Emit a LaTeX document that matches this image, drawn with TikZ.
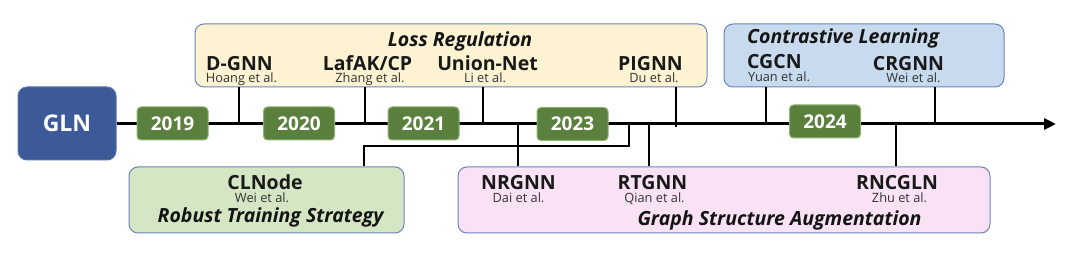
\documentclass[tikz,border=0pt]{standalone}
\usepackage{fontspec}
\setmainfont{Open Sans}
\usetikzlibrary{arrows.meta}
\definecolor{glnblue}{HTML}{3C5A97}
\definecolor{glnedge}{HTML}{5873AD}
\definecolor{yeargreen}{HTML}{5B803D}
\definecolor{yearedge}{HTML}{8DB36F}
\definecolor{groupedge}{HTML}{6A86BC}
\definecolor{lossfill}{HTML}{FDF2D2}
\definecolor{clfill}{HTML}{C8DAEE}
\definecolor{robfill}{HTML}{D4E6C4}
\definecolor{gsafill}{HTML}{F9E2F6}
\begin{document}
\begin{tikzpicture}[x=1pt,y=-1pt,
  gln/.style={draw=glnedge, fill=glnblue, rounded corners=9pt, line width=1pt, minimum width=98pt, minimum height=73pt, inner sep=0pt, text=white, font=\fontsize{23}{23}\selectfont\bfseries},
  yearbox/.style={draw=yearedge, fill=yeargreen, rounded corners=4pt, line width=1pt, minimum width=71pt, minimum height=33pt, inner sep=0pt, text=white, font=\fontsize{19}{19}\selectfont\bfseries},
  groupbox/.style={draw=groupedge, line width=1pt, rounded corners=9pt, inner sep=0pt},
  method/.style={anchor=base, inner sep=0pt, font=\fontsize{19.5}{19.5}\selectfont\bfseries, text=black!90},
  author/.style={anchor=base, inner sep=0pt, font=\fontsize{12.8}{12.8}\selectfont, text=black!80},
  grouptitle/.style={anchor=base, inner sep=0pt, font=\fontsize{19.5}{19.5}\selectfont\bfseries\itshape, text=black!92},
  timeline/.style={line width=3pt},
  link/.style={line width=1.5pt}]
\useasboundingbox (0,0) rectangle (1076,256);

% group boxes
\node[groupbox, fill=lossfill, minimum width=512pt, minimum height=63pt] (loss) at (451,55.5) {};
\node[groupbox, fill=clfill, minimum width=280pt, minimum height=63pt] (cl) at (864,55.5) {};
\node[groupbox, fill=robfill, minimum width=275pt, minimum height=66pt] (rob) at (266.5,200) {};
\node[groupbox, fill=gsafill, minimum width=532pt, minimum height=66pt] (gsa) at (724,200) {};

% root
\node[gln] (gln) at (67,123.5) {GLN};

% timeline
\coordinate (tend) at (1056,124);
\draw[timeline, -{Triangle[length=12pt,width=11pt]}] (gln.east |- tend) -- (tend);

% connector points on the timeline
\coordinate (tDG) at (239,124);
\coordinate (tLA) at (365,124);
\coordinate (tUN) at (483,124);
\coordinate (tPI) at (676,127);
\coordinate (tCG) at (766,124);
\coordinate (tCR) at (935,124);
\coordinate (tNR) at (518,124);
\coordinate (tRT) at (649,124);
\coordinate (tRN) at (896,124);
\coordinate (tCL) at (629,124);
\coordinate (cbend) at (364,146);

\draw[link] (loss.south -| tDG) -- (tDG);
\draw[link] (loss.south -| tLA) -- (tLA);
\draw[link] (loss.south -| tUN) -- (tUN);
\draw[link] (loss.south -| tPI) -- (tPI);
\draw[link] (cl.south -| tCG) -- (tCG);
\draw[link] (cl.south -| tCR) -- (tCR);
\draw[link] (tNR) -- (gsa.north -| tNR);
\draw[link] (tRT) -- (gsa.north -| tRT);
\draw[link] (tRN) -- (gsa.north -| tRN);
\draw[link] (rob.north -| cbend) -- (cbend) -- (cbend -| tCL) -- (tCL);

% years
\node[yearbox] (y2019) at (172.5,123.5) {2019};
\node[yearbox] (y2020) at (299,123.5) {2020};
\node[yearbox] (y2021) at (423.5,123.5) {2021};
\node[yearbox] (y2023) at (572.5,124) {2023};
\node[yearbox] (y2024) at (825,121.5) {2024};

% group titles
\node[grouptitle] (tloss) at (460,47) {Loss Regulation};
\node[grouptitle, anchor=base west] (tcl) at (747,44) {Contrastive Learning};
\node[grouptitle] (trob) at (270.5,223) {Robust Training Strategy};
\node[grouptitle] (tgsa) at (779.5,226) {Graph Structure Augmentation};

% methods
\node[method] (mDG) at (239.5,70.5) {D-GNN};
\node[author] (aDG) at (241.5,82.5) {Hoang et al.};
\node[method] (mLA) at (367.5,70.5) {LafAK/CP};
\node[author] (aLA) at (370,82.5) {Zhang et al.};
\node[method] (mUN) at (487.5,70.5) {Union-Net};
\node[author] (aUN) at (485,82.5) {Li et al.};
\node[method] (mPI) at (650.5,70.5) {PIGNN};
\node[author] (aPI) at (654,82.5) {Du et al.};
\node[method, anchor=base west] (mCG) at (747,68.5) {CGCN};
\node[author, anchor=base west] (aCG) at (748,81.5) {Yuan et al.};
\node[method] (mCR) at (908.5,70.5) {CRGNN};
\node[author] (aCR) at (913.5,82.5) {Wei et al.};
\node[method] (mCL) at (265,189.5) {CLNode};
\node[author] (aCL) at (262,203) {Wei et al.};
\node[method] (mNR) at (518.5,189.5) {NRGNN};
\node[author] (aNR) at (518.5,203) {Dai et al.};
\node[method] (mRT) at (652.5,189.5) {RTGNN};
\node[author] (aRT) at (654.5,203) {Qian et al.};
\node[method] (mRN) at (897,189.5) {RNCGLN};
\node[author] (aRN) at (899.5,203) {Zhu et al.};
\end{tikzpicture}
\end{document}
